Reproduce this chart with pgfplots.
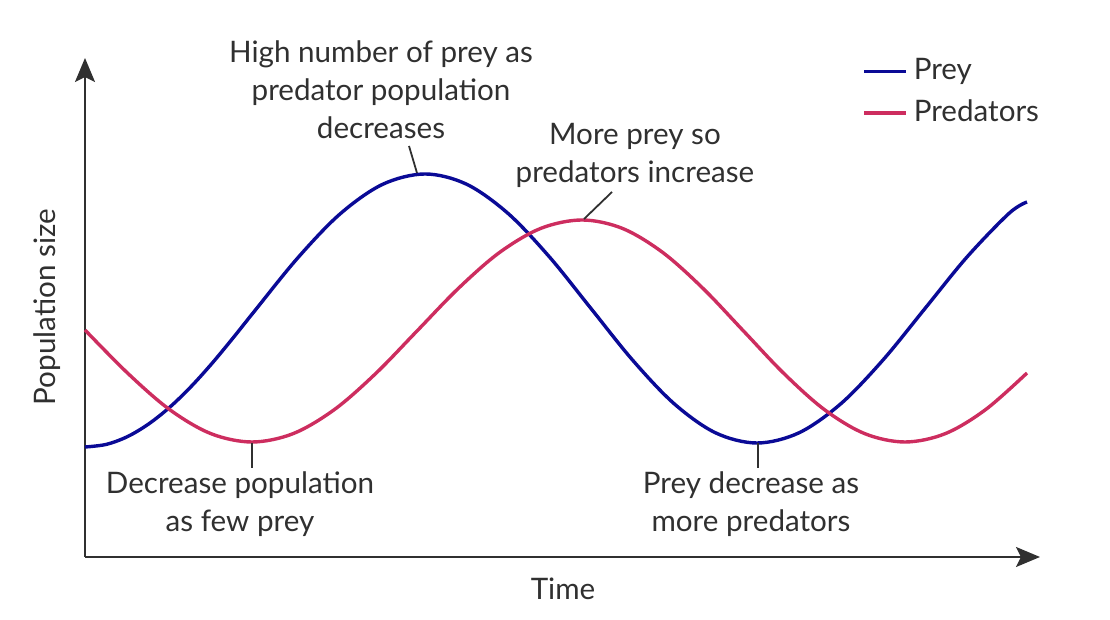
\documentclass[border=0pt]{standalone}
\usepackage{pgfplots}
\pgfplotsset{compat=1.18}
\usepackage{fontspec}
\setmainfont{Lato}
\usetikzlibrary{arrows.meta}
\definecolor{preyc}{RGB}{10,10,150}
\definecolor{predc}{RGB}{205,45,95}
\definecolor{txt}{RGB}{48,48,48}
\begin{document}
\fontsize{14.8}{19}\selectfont
\begin{tikzpicture}
\begin{axis}[
  x=0.5pt, y=0.5pt,
  xmin=85, xmax=1040, ymin=63, ymax=562,
  axis lines=left,
  axis line style={txt, line width=1pt, -{Stealth[length=12pt,width=10pt,inset=2.5pt]}},
  xtick=\empty, ytick=\empty,
  clip=false,
  legend style={draw=none, fill=none, at={(axis cs:862,566)}, anchor=north west,
    font=\fontsize{14.8}{19}\selectfont\color{txt}, row sep=4pt, inner sep=0pt},
  legend cell align=left,
  legend image code/.code={\draw[#1] (0cm,0cm) -- (21pt,0cm);},
]
\addplot[preyc, line width=1.7pt, smooth, tension=0.55] coordinates {
(85,173) (106.25,175.6) (127.5,183.4) (148.75,196.1) (170,213) (191.25,233.6) (212.5,257.2) (233.75,282.9) (255,309.5)
(297.5,361.8) (340,406) (382.5,435.6) (425,446)
(466.5,435.8) (508,406.6) (549.5,363) (591,311.5) (632.5,260) (674,216.4) (715.5,187.2) (757,177)
(799,187.2) (841,216.4) (883,260) (925,311.5) (967,363) (1009,406.6) (1027,418)
};
\addlegendentry{\hspace{1pt}Prey}
\addplot[predc, line width=1.7pt, smooth, tension=0.55] coordinates {
(85,290) (128,246.5) (169.5,210.5) (210.75,186.4) (252,178)
(293.25,186.4) (334.5,210.5) (375.75,246.5) (417,289) (458.25,331.5) (499.5,367.5) (540.75,391.6) (582,400)
(622.4,391.6) (662.75,367.5) (703.1,331.5) (743.5,289) (783.9,246.5) (824.25,210.5) (864.6,186.4) (905,178)
(945.4,186.4) (985.75,210.5) (1027,247)
};
\addlegendentry{\hspace{1pt}Predators}
% leader lines
\draw[txt, line width=0.9pt] (axis cs:409,474) -- (axis cs:417,447);
\draw[txt, line width=0.9pt] (axis cs:612,428) -- (axis cs:584,401);
\draw[txt, line width=0.9pt] (axis cs:252,177) -- (axis cs:252,152);
\draw[txt, line width=0.9pt] (axis cs:758,177) -- (axis cs:758,152);
% annotations
\node[txt, align=center, anchor=center] at (axis cs:381,530) {High number of prey as\\predator population\\decreases};
\node[txt, align=center, anchor=center] at (axis cs:635,465) {More prey so\\predators increase};
\node[txt, align=center, anchor=center] at (axis cs:240,116) {Decrease population\\as few prey};
\node[txt, align=center, anchor=center] at (axis cs:751,116) {Prey decrease as\\more predators};
\node[txt, rotate=90] at (axis cs:47,313) {Population size};
\node[txt] at (axis cs:563,31) {Time};
\coordinate (bl) at (axis cs:0,0);
\coordinate (tr) at (axis cs:1110,620);
\end{axis}
\pgfresetboundingbox
\path (bl) rectangle (tr);
\end{tikzpicture}
\end{document}
